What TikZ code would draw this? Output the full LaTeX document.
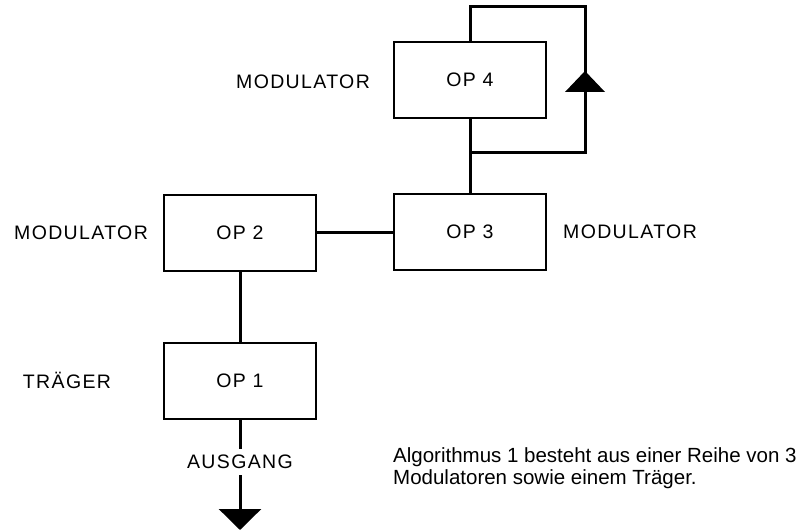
\documentclass[tikz,border=0pt]{standalone}
\usepackage{fontspec}
\setmainfont{Liberation Sans}
\newfontfamily\lblfont[LetterSpace=7]{Liberation Sans}
\usetikzlibrary{arrows.meta}
\begin{document}
\begin{tikzpicture}[x=1bp,y=-1bp,
  opbox/.style={draw, line width=1.6bp, minimum width=152bp, minimum height=76bp, inner sep=0pt,
    font=\lblfont\fontsize{19.5bp}{22bp}\selectfont},
  lbl/.style={inner sep=0pt, font=\lblfont\fontsize{19.5bp}{22bp}\selectfont},
  desc/.style={inner sep=0pt, anchor=base west, font=\fontsize{20.5bp}{22bp}\selectfont},
  wire/.style={line width=3bp, line join=miter}]
\useasboundingbox (0,0) rectangle (805,530);
% boxes
\node[opbox] (op4) at (470,80) {OP 4};
\node[opbox] (op3) at (470,232) {OP 3};
\node[opbox] (op2) at (240,233) {OP 2};
\node[opbox] (op1) at (240,381) {OP 1};
% labels
\node[lbl] (m4) at (303,82) {MODULATOR};
\node[lbl] (m2) at (81,233) {MODULATOR};
\node[lbl] (m3) at (630,232) {MODULATOR};
\node[lbl] (tr) at (67,380) {TRÄGER};
\node[lbl] (aus) at (240,462) {AUSGANG};
% description
\node[desc] (d1) at (393,462) {Algorithmus 1 besteht aus einer Reihe von 3};
\node[desc] (d2) at (393,484) {Modulatoren sowie einem Träger.};
% connectors
\draw[wire] (op2.east) -- (op2.east -| op3.west);
\draw[wire] (op2.south) -- (op1.north);
\draw[wire] (op4.south) -- (op3.north);
\coordinate (j) at (470,153);
\coordinate (rb) at (585,153);
\coordinate (rt) at (585,7);
\coordinate (lt) at (470,7);
\draw[wire] (j) -- (rb) -- (rt) -- (lt) -- (op4.north);
\coordinate (fb) at (585,92);
\fill (fb) ++(-20,0) -- ++(40,0) -- ++(-20,-21) -- cycle;
\coordinate (out) at (240,530);
\draw[wire] (op1.south) -- ([yshift=6bp]aus.north);
\draw[wire, -{Triangle[width=42bp,length=21bp]}] ([yshift=-6bp]aus.south) -- (out);
\end{tikzpicture}
\end{document}
